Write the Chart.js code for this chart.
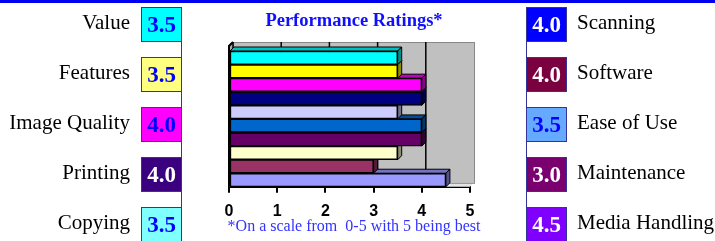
<!DOCTYPE html>
<html lang="en">
<head>
<meta charset="UTF-8">
<title>Performance Ratings</title>
<script src="https://cdn.jsdelivr.net/npm/chart.js"></script>
<style>
    body { margin: 0; width: 715px; height: 241px; position: relative; overflow: hidden; background: #fff;
           font-family: "Liberation Serif", "Times New Roman", serif; }
    .linha-topo { position: absolute; left: 0; top: 0; width: 715px; height: 3px; background: #0000f0; }
    .painel { position: absolute; left: 181px; top: 7px; width: 344px; height: 240px;
              border-left: 1px solid #333399; border-right: 1px solid #333399; }
    #grafico { position: absolute; left: 0; top: 0; }
    .titulo { position: absolute; left: 181px; width: 346px; top: 10px; line-height: 21px; text-align: center;
              font-weight: bold; font-size: 18.5px; color: #1010ff; }
    .nota { position: absolute; left: 181px; width: 346px; top: 217px; line-height: 18px; text-align: center;
            font-size: 16px; color: #3333ff; white-space: pre; }
    .rotulo { position: absolute; font-size: 21px; line-height: 24px; color: #000; white-space: nowrap; }
    .esq { right: 585px; text-align: right; }
    .dir { left: 577px; }
    .caixa { position: absolute; width: 39px; height: 33px; border: 1px solid #333399; font-weight: bold;
             font-size: 23px; line-height: 33px; text-align: center; }
</style>
</head>
<body>
    <div class="linha-topo"></div>
    <div class="painel"></div>
    <canvas id="grafico" width="715" height="241"></canvas>
    <div class="titulo">Performance Ratings*</div>
    <div class="nota">*On a scale from  0-5 with 5 being best</div>
    <div id="caixas"></div>

<script>
    // dados (de cima para baixo)
    const categorias = ['Value', 'Features', 'Image Quality', 'Printing', 'Copying',
                        'Scanning', 'Software', 'Ease of Use', 'Maintenance', 'Media Handling'];
    const notas = [3.5, 3.5, 4.0, 4.0, 3.5, 4.0, 4.0, 3.5, 3.0, 4.5];
    const coresBarras = ['#00ffff', '#ffff00', '#ff00ff', '#000080', '#ccccff',
                         '#0066cc', '#660066', '#ffffcc', '#993366', '#9999ff'];
    const coresCaixas = ['#00ffff', '#ffff80', '#ff00ff', '#3a0080', '#80ffff',
                         '#0000ff', '#7a0040', '#66aaff', '#7a0070', '#8000ff'];
    const coresTextoCaixas = ['#0000ff', '#0000ff', '#0000ff', '#ffffff', '#0000ff',
                              '#ffffff', '#ffffff', '#0000ff', '#ffffff', '#ffffff'];
    const escalaMin = 0;
    const escalaMax = 5;

    // caixas laterais com o nome e a nota
    const divCaixas = document.getElementById('caixas');
    categorias.forEach(function (nome, i) {
        const lado = i < 5 ? 'esq' : 'dir';
        const linha = i % 5;
        const rotulo = document.createElement('div');
        rotulo.className = 'rotulo ' + lado;
        rotulo.style.top = (10 + 50 * linha) + 'px';
        rotulo.textContent = nome;
        divCaixas.appendChild(rotulo);

        const caixa = document.createElement('div');
        caixa.className = 'caixa';
        caixa.style.left = (lado == 'esq' ? 141 : 526) + 'px';
        caixa.style.top = (7 + 50 * linha) + 'px';
        caixa.style.background = coresCaixas[i];
        caixa.style.color = coresTextoCaixas[i];
        caixa.textContent = notas[i].toFixed(1);
        divCaixas.appendChild(caixa);
    });

    const profundidade = 4;

    function escurecer(hex, f) {
        const n = parseInt(hex.slice(1), 16);
        const r = Math.round(((n >> 16) & 255) * f);
        const g = Math.round(((n >> 8) & 255) * f);
        const b = Math.round((n & 255) * f);
        return 'rgb(' + r + ',' + g + ',' + b + ')';
    }

    function poligono(ctx, pts) {
        ctx.beginPath();
        ctx.moveTo(pts[0][0], pts[0][1]);
        for (let k = 1; k < pts.length; k++) ctx.lineTo(pts[k][0], pts[k][1]);
        ctx.closePath();
    }

    // parede cinza e barras com efeito 3D
    const efeito3d = {
        id: 'efeito3d',
        beforeDatasetsDraw(chart) {
            const ctx = chart.ctx;
            const a = chart.chartArea;
            const x = chart.scales.x;
            const d = profundidade;
            const topo = a.top - 9;
            ctx.save();

            // chao
            ctx.fillStyle = '#e4e4e4';
            poligono(ctx, [[a.left, a.bottom], [a.left + d, a.bottom - d], [a.right + d, a.bottom - d], [a.right, a.bottom]]);
            ctx.fill();
            // parede lateral
            ctx.fillStyle = '#a8a8a8';
            poligono(ctx, [[a.left, topo + d], [a.left + d, topo], [a.left + d, a.bottom - d], [a.left, a.bottom]]);
            ctx.fill();
            // parede do fundo
            ctx.fillStyle = '#c0c0c0';
            ctx.fillRect(a.left + d, topo, a.right - a.left, a.bottom - d - topo);
            ctx.strokeStyle = '#888888';
            ctx.lineWidth = 1;
            ctx.strokeRect(a.left + d + 0.5, topo + 0.5, a.right - a.left, a.bottom - d - topo);

            // linhas de grade na parede
            ctx.strokeStyle = '#000';
            ctx.lineWidth = 1.5;
            for (let v = escalaMin; v < escalaMax; v++) {
                const px = x.getPixelForValue(v) + d;
                ctx.beginPath();
                ctx.moveTo(px, topo);
                ctx.lineTo(px, a.bottom - d);
                ctx.stroke();
            }
            // eixo lateral
            ctx.lineWidth = 2;
            ctx.beginPath();
            ctx.moveTo(a.left + d, topo);
            ctx.lineTo(a.left, topo + d);
            ctx.lineTo(a.left, a.bottom);
            ctx.stroke();

            // barras, de baixo para cima
            const meta = chart.getDatasetMeta(0);
            ctx.lineWidth = 1;
            for (let i = meta.data.length - 1; i >= 0; i--) {
                const barra = meta.data[i];
                const p = barra.getProps(['x', 'y', 'base', 'height'], true);
                const cima = p.y - p.height / 2;
                const baixo = p.y + p.height / 2;
                const cor = coresBarras[i];
                ctx.strokeStyle = '#000';
                ctx.fillStyle = escurecer(cor, 0.75);
                poligono(ctx, [[p.base, cima], [p.base + d, cima - d], [p.x + d, cima - d], [p.x, cima]]);
                ctx.fill();
                ctx.stroke();
                ctx.fillStyle = escurecer(cor, 0.55);
                poligono(ctx, [[p.x, cima], [p.x + d, cima - d], [p.x + d, baixo - d], [p.x, baixo]]);
                ctx.fill();
                ctx.stroke();
                barra.draw(ctx, a);
            }
            ctx.restore();
            return false;
        }
    };

    const dados = {
        labels: categorias,
        datasets: [{
            data: notas,
            backgroundColor: coresBarras,
            borderColor: '#000',
            borderWidth: 1.5,
            borderSkipped: false,
            barPercentage: 1,
            categoryPercentage: 1
        }]
    };

    const config = {
        type: 'bar',
        data: dados,
        options: {
            indexAxis: 'y',
            responsive: false,
            animation: false,
            layout: { padding: { left: 229, right: 245, top: 51, bottom: 11 } },
            plugins: { legend: { display: false }, tooltip: { enabled: false } },
            scales: {
                y: { display: false },
                x: {
                    min: escalaMin,
                    max: escalaMax,
                    ticks: {
                        stepSize: 1,
                        color: '#000',
                        padding: 9,
                        font: { family: "'Liberation Sans', Arial, sans-serif", weight: 'bold', size: 16 }
                    },
                    grid: { drawOnChartArea: false, drawTicks: true, tickLength: 6, color: '#000', lineWidth: 2 },
                    border: { display: true, color: '#000', width: 2 }
                }
            }
        },
        plugins: [efeito3d]
    };

    const meuGrafico = new Chart(document.getElementById('grafico'), config);
</script>
</body>
</html>
